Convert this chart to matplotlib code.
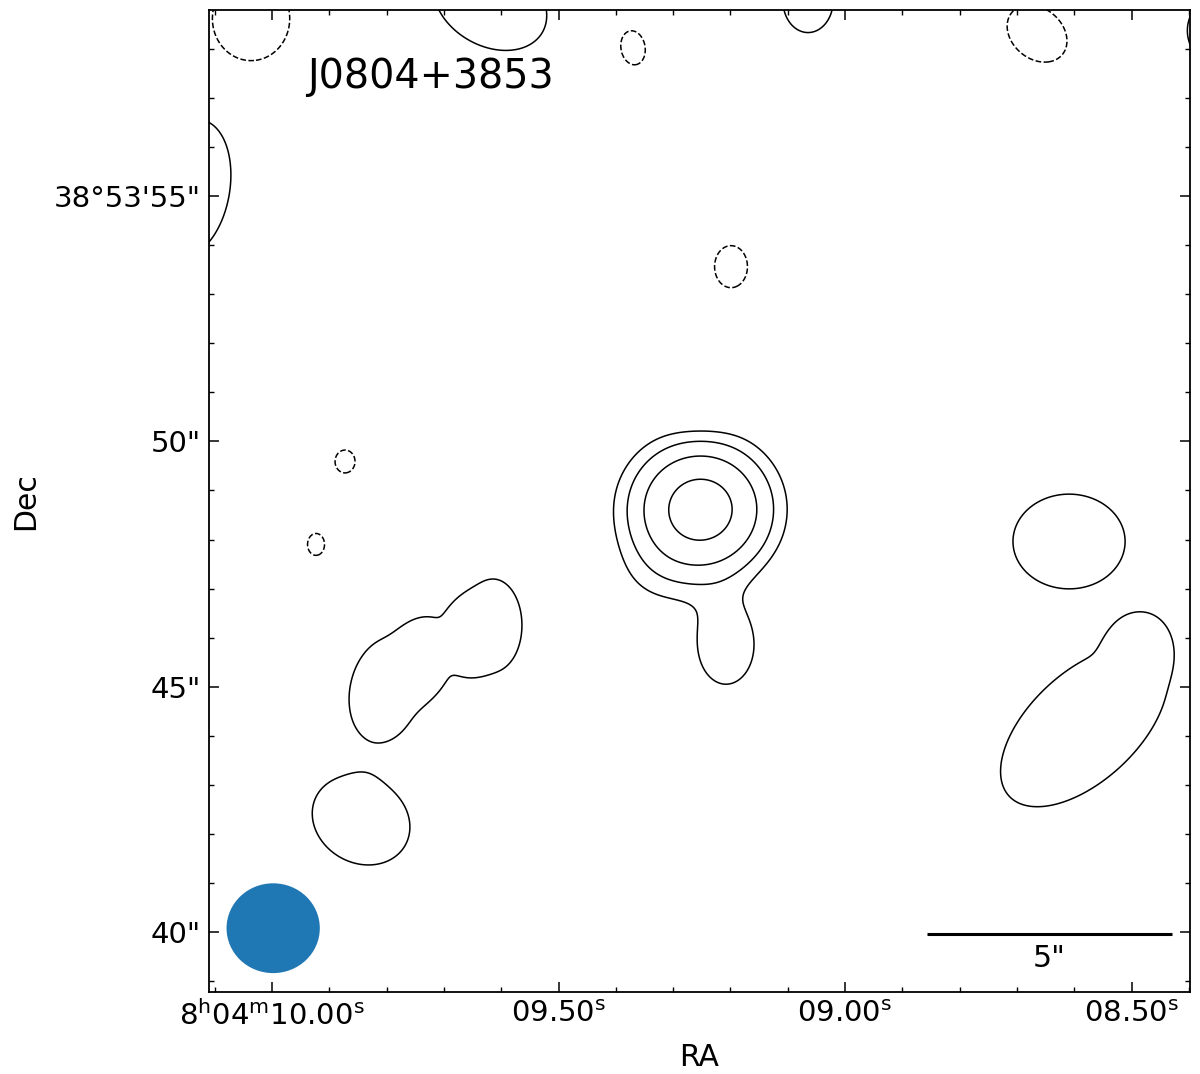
import numpy as np
import matplotlib
matplotlib.use("Agg")
import matplotlib.pyplot as plt
from matplotlib.patches import Ellipse
from matplotlib.ticker import FixedLocator, MultipleLocator

# ---------------- data ----------------
source_name = "J0804+3853"
dec0_deg = 38 + 53 / 60 + 49 / 3600          # field centre declination
# emission components: RA seconds (8h04m + s), Dec arcsec (38d53m + "),
# amplitude (units of lowest contour), sizes ("), position angle (deg), profile power
comp_ra = [9.2522, 9.2077, 9.3316, 9.2531,
           9.8028, 9.6143, 9.7033, 9.8446,
           8.6091, 8.5830, 8.4887,
           10.1431, 9.6195, 9.0646, 8.3385,
           10.0366, 9.3700, 9.1990, 8.6649, 9.8726, 9.9232]
comp_dec = [48.615, 45.845, 47.21, 50.94,
            44.929, 46.253, 45.83, 42.28,
            47.96, 44.19, 45.947,
            55.15, 58.95, 58.98, 58.37,
            58.615, 58.02, 53.56, 58.31, 49.59, 47.90]
comp_amp = [11.0, 1.9, 0.6, -0.6,
            1.35, 1.4, 1.0, 1.6,
            1.6, 1.4, 0.8,
            1.6, 1.6, 1.6, 1.6,
            -1.6, -1.6, -1.6, -1.6, -1.6, -1.6]
comp_sx = [0.806, 0.5, 0.7, 0.6,
           0.81, 0.65, 0.72, 1.05,
           1.16, 2.3, 0.6,
           0.82, 1.25, 0.52, 0.76,
           0.80, 0.25, 0.34, 0.68, 0.207, 0.176]
comp_sy = [0.77, 0.7, 0.6, 0.6,
           1.23, 1.04, 1.05, 0.88,
           0.98, 1.22, 0.75,
           1.44, 0.90, 0.66, 0.76,
           0.87, 0.355, 0.435, 0.52, 0.237, 0.227]
comp_theta = [0, 0, 0, 0,
              -12, 0, 0, -30,
              0, 43, 0,
              -10, -30, 0, 0,
              0, 10, 0, -40, 0, 0]
comp_power = [1, 1, 1, 1,
              2, 2, 2, 2,
              2, 2, 2,
              2, 2, 2, 2,
              2, 2, 2, 2, 2, 2]
contour_levels = [-1, 1, 2, 4, 8]           # in units of the lowest contour

ra_ticks = [10.00, 9.50, 9.00, 8.50]
ra_ticklabels = [r"$\mathregular{8^{h}04^{m}10.00^{s}}$", r"$\mathregular{09.50^{s}}$",
                 r"$\mathregular{09.00^{s}}$", r"$\mathregular{08.50^{s}}$"]
dec_ticks = [40, 45, 50, 55]
dec_ticklabels = ['40"', '45"', '50"', "38°53'55\""]

beam_ra, beam_dec = 9.998, 40.08
beam_major, beam_minor = 1.90, 1.83          # arcsec
scalebar_arcsec = 5
scalebar_ra_end, scalebar_dec = 8.429, 39.96

xlim = (10.110, 8.398)
ylim = (38.78, 58.79)

# ---------------- field ----------------
k = 15 * np.cos(np.radians(dec0_deg))        # arcsec per RA second
ra_grid = np.linspace(8.25, 10.30, 800)
dec_grid = np.linspace(37.5, 60.5, 800)
RA, DEC = np.meshgrid(ra_grid, dec_grid)
field = np.zeros_like(RA)
for ra, de, a, sx, sy, th, p in zip(comp_ra, comp_dec, comp_amp, comp_sx, comp_sy,
                                     comp_theta, comp_power):
    u = -(RA - ra) * k
    v = DEC - de
    t = np.radians(th)
    ur = u * np.cos(t) + v * np.sin(t)
    vr = -u * np.sin(t) + v * np.cos(t)
    q = (ur / sx) ** 2 + (vr / sy) ** 2
    field += a * np.exp(-0.5 * q ** p)

# ---------------- plot ----------------
fig = plt.figure(figsize=(12, 10.74), dpi=100)
ax = fig.add_axes([209 / 1200, 1 - 992 / 1074, 981 / 1200, 982 / 1074])
ax.contour(RA, DEC, field, levels=contour_levels, colors="k", linewidths=1.1)
ax.set_xlim(*xlim)
ax.set_ylim(*ylim)

ax.add_patch(Ellipse((beam_ra, beam_dec), beam_major / k, beam_minor,
                     facecolor="#1f77b4", edgecolor="none"))
sb_len = scalebar_arcsec / k
ax.plot([scalebar_ra_end + sb_len, scalebar_ra_end], [scalebar_dec, scalebar_dec],
        color="k", lw=2.2, solid_capstyle="butt")
ax.text(scalebar_ra_end + sb_len / 2, scalebar_dec - 0.5, '%d"' % scalebar_arcsec,
        ha="center", va="center", fontsize=21.5)

ax.text(0.0999, 0.932, source_name, transform=ax.transAxes, fontsize=28.5,
        ha="left", va="center")

ax.xaxis.set_major_locator(FixedLocator(ra_ticks))
ax.set_xticklabels(ra_ticklabels)
ax.xaxis.set_minor_locator(MultipleLocator(0.1))
ax.yaxis.set_major_locator(FixedLocator(dec_ticks))
ax.set_yticklabels(dec_ticklabels)
ax.yaxis.set_minor_locator(MultipleLocator(1))
ax.tick_params(which="both", direction="in", top=True, right=True, labelsize=21)
ax.tick_params(which="major", length=7, width=1.1, pad=6)
ax.tick_params(which="minor", length=3.5, width=1.0)
for s in ax.spines.values():
    s.set_linewidth(1.3)
ax.set_xlabel("RA", fontsize=21.5, labelpad=9)
ax.set_ylabel("Dec", fontsize=21.5, labelpad=10)

fig.savefig("out.png", dpi=100)
